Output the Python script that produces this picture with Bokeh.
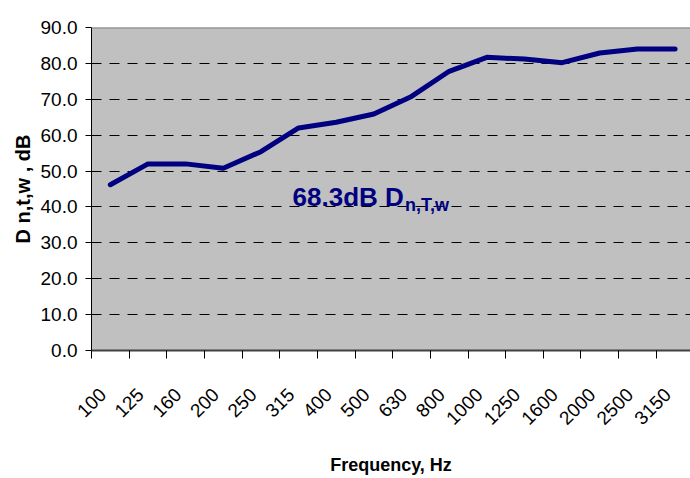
import math
from bokeh.plotting import figure
from bokeh.models import Range1d, FixedTicker, Label, Span, PrintfTickFormatter
from bokeh.embed import file_html
from bokeh.resources import INLINE

# ---- data ----
freqs = ["100", "125", "160", "200", "250", "315", "400", "500", "630",
         "800", "1000", "1250", "1600", "2000", "2500", "3150"]
dntw = [46.2, 52.0, 52.0, 50.8, 55.4, 62.0, 63.6, 65.9, 70.8,
        77.8, 81.7, 81.2, 80.2, 82.9, 84.0, 84.0]
yticks = [0, 10, 20, 30, 40, 50, 60, 70, 80, 90]
rating_text = "68.3dB D"
rating_sub = "n,T,w"

FONT = "Liberation Sans"
NAVY = "#000080"

xs = list(range(len(freqs)))
cat_px = 37.65
frame_w = 599
x_end = -0.5 + frame_w / cat_px
label_shift = 0.2  # rotated tick labels sit slightly left of category centre

p = figure(width=690, height=478, output_backend="svg", toolbar_location=None,
           x_range=Range1d(-0.5, x_end), y_range=Range1d(yticks[0], yticks[-1]),
           min_border_left=91, min_border_right=0, min_border_top=27,
           min_border_bottom=128)
p.background_fill_color = "#C0C0C0"
p.border_fill_color = "white"
p.outline_line_color = None

# grid
p.xgrid.visible = False
p.ygrid.ticker = FixedTicker(ticks=yticks[1:-1])
p.ygrid.grid_line_color = "black"
p.ygrid.grid_line_dash = "10 8"
p.ygrid.grid_line_width = 1

# top border of plot area
p.add_layout(Span(location=yticks[-1], dimension="width",
                  line_color="#808080", line_width=2))

# data line
p.line(xs, dntw, line_color=NAVY, line_width=5, line_join="round", line_cap="round")

# y axis
ya = p.yaxis[0]
ya.ticker = FixedTicker(ticks=yticks)
ya.formatter = PrintfTickFormatter(format="%.1f")
ya.major_tick_out = 6
ya.major_tick_in = 0
ya.minor_tick_out = 0
ya.minor_tick_in = 0
ya.axis_line_color = "black"
ya.major_tick_line_color = "black"
ya.major_label_text_font = FONT
ya.major_label_text_font_size = "19px"
ya.major_label_text_color = "black"
ya.major_label_standoff = 8
ya.axis_label = "D n,t,w , dB"
ya.axis_label_text_font = FONT
ya.axis_label_text_font_size = "20px"
ya.axis_label_text_font_style = "bold"
ya.axis_label_text_color = "black"
ya.axis_label_standoff = 4

# x axis
label_pos = [i - label_shift for i in xs]
xa = p.xaxis[0]
xa.ticker = FixedTicker(ticks=label_pos, minor_ticks=[i - 0.5 for i in range(len(freqs) + 1)])
xa.major_label_overrides = {pos: f for pos, f in zip(label_pos, freqs)}
xa.major_label_orientation = math.pi / 4
xa.major_tick_out = 0
xa.major_tick_in = 0
xa.minor_tick_out = 8
xa.minor_tick_in = 0
xa.minor_tick_line_color = "black"
xa.axis_line_color = "#404040"
xa.axis_line_width = 2
xa.major_label_text_font = FONT
xa.major_label_text_font_size = "19px"
xa.major_label_text_color = "black"
xa.major_label_standoff = 33
xa.axis_label = "Frequency, Hz"
xa.axis_label_text_font = FONT
xa.axis_label_text_font_size = "18px"
xa.axis_label_text_font_style = "bold"
xa.axis_label_text_color = "black"
xa.axis_label_standoff = 21

# rating annotation
p.add_layout(Label(x=4.84, y=42.7, text=rating_text, text_font=FONT,
                   text_font_size="26px", text_font_style="bold", text_color=NAVY,
                   text_baseline="alphabetic"))
p.add_layout(Label(x=7.83, y=40.6, text=rating_sub, text_font=FONT,
                   text_font_size="18px", text_font_style="bold", text_color=NAVY,
                   text_baseline="alphabetic"))

open("out.html", "w").write(file_html(p, INLINE))
